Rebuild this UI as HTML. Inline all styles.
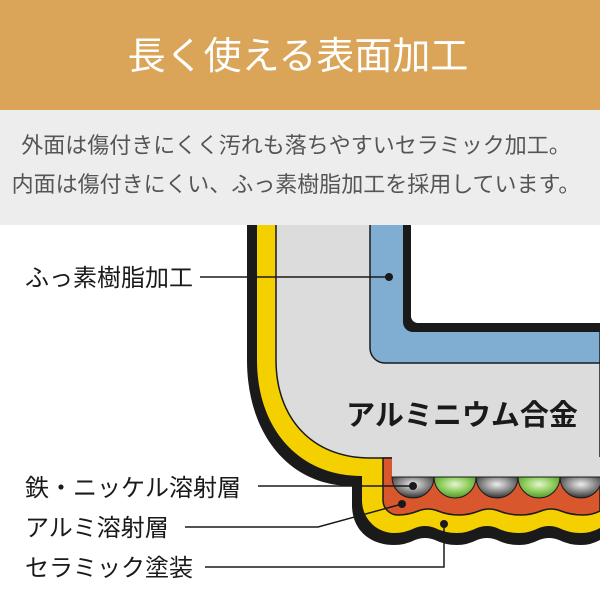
<!DOCTYPE html>
<html><head><meta charset="utf-8"><style>
body{margin:0;width:600px;height:600px;overflow:hidden;background:#fff;font-family:"Liberation Sans","Noto Sans CJK JP",sans-serif}
</style></head><body>
<svg width="600" height="600" xmlns="http://www.w3.org/2000/svg" style="display:block">
<defs>
<clipPath id="c"><rect x="0" y="225" width="600" height="375"/></clipPath>
<radialGradient id="g1" cx="0.5" cy="0.35" r="0.7"><stop offset="0" stop-color="#eee"/><stop offset="0.5" stop-color="#888"/><stop offset="1" stop-color="#222"/></radialGradient>
<radialGradient id="g2" cx="0.5" cy="0.35" r="0.7"><stop offset="0" stop-color="#e6f5d0"/><stop offset="0.5" stop-color="#8ccc5a"/><stop offset="1" stop-color="#4a8a2a"/></radialGradient>
</defs>
<rect x="0" y="0" width="600" height="110" fill="#DBA559"/>
<text x="298" y="69" text-anchor="middle" fill="#fff" font-size="38" font-family="Liberation Sans,Noto Sans CJK JP,sans-serif">長く使える表面加工</text>
<rect x="0" y="110" width="600" height="115" fill="#EDEDED"/>
<text x="296" y="153" text-anchor="middle" fill="#555" font-size="22" font-family="Liberation Sans,Noto Sans CJK JP,sans-serif">外面は傷付きにくく汚れも落ちやすいセラミック加工。</text>
<text x="296" y="192" text-anchor="middle" fill="#555" font-size="22" font-family="Liberation Sans,Noto Sans CJK JP,sans-serif">内面は傷付きにくい、ふっ素樹脂加工を採用しています。</text>
<g clip-path="url(#c)">
<path d="M247 200 V360 C247 435 290 486 352 486 V505 C352 530 370 545 394 545 Q405 545 415 540 Q425 536 435 540 Q445 545 457 545 Q467 545 477 540 Q487 536 497 540 Q507 545 519 545 Q529 545 539 540 Q549 536 559 540 Q569 545 581 545 Q591 545 600 540 V200 Z" fill="#1a1a1a"/>
<path d="M257 200 V360 C257 428 298 476 362 476 V500 C362 520 378 533 394 533 Q405 533 415 528 Q425 524 435 528 Q445 533 457 533 Q467 533 477 528 Q487 524 497 528 Q507 533 519 533 Q529 533 539 528 Q549 524 559 528 Q569 533 581 533 Q591 533 600 528 V200 Z" fill="#F5D000"/>
<path d="M276 200 V360 C276 418 312 458 370 458 H600 V200 Z" fill="#DCDCDC" stroke="#1a1a1a" stroke-width="1.5"/>
<path d="M383 458 V500 A15 15 0 0 0 398 515 Q408 515 418 511 Q428 507 438 511 Q448 515 459 515 Q469 515 479 511 Q489 507 499 511 Q509 515 521 515 Q531 515 541 511 Q551 507 561 511 Q571 515 583 515 Q592 515 600 511 V458 Z" fill="#D9572C" stroke="#1a1a1a" stroke-width="1.5"/>
<rect x="392" y="457" width="210" height="20" fill="#DCDCDC"/>
<line x1="392" y1="477" x2="600" y2="477" stroke="#1a1a1a" stroke-width="1"/>
<path d="M392 477 A21 21 0 0 0 434 477 Z" fill="url(#g1)" stroke="#1a1a1a"/>
<path d="M434 477 A21 21 0 0 0 476 477 Z" fill="url(#g2)" stroke="#1a1a1a"/>
<path d="M476 477 A21 21 0 0 0 518 477 Z" fill="url(#g1)" stroke="#1a1a1a"/>
<path d="M518 477 A21 21 0 0 0 560 477 Z" fill="url(#g2)" stroke="#1a1a1a"/>
<path d="M560 477 A21 21 0 0 0 602 477 Z" fill="url(#g1)" stroke="#1a1a1a"/>
<path d="M370 200 V348 A15 15 0 0 0 385 363 H600 V200 Z" fill="#80AED3" stroke="#1a1a1a" stroke-width="1.5"/>
<path d="M403 200 V322 A10 10 0 0 0 413 332 H600 V200 Z" fill="#1a1a1a"/>
<path d="M411 200 V316 A7 7 0 0 0 418 323 H600 V200 Z" fill="#fff"/>
</g>
<text x="462" y="425" text-anchor="middle" fill="#1a1a1a" font-size="29" font-weight="bold" font-family="Liberation Sans,Noto Sans CJK JP,sans-serif">アルミニウム合金</text>
<g stroke="#1a1a1a" stroke-width="1.5" fill="none">
<line x1="200" y1="277" x2="389" y2="277"/>
<line x1="258" y1="486" x2="413" y2="486"/>
<polyline points="185,527 318,527 402,504"/>
<polyline points="205,567 444,567 444,524"/>
</g>
<g fill="#1a1a1a">
<circle cx="389" cy="277" r="4"/>
<circle cx="413" cy="486" r="4"/>
<circle cx="402" cy="504" r="4"/>
<circle cx="444" cy="524" r="4"/>
</g>
<g font-size="24" fill="#1a1a1a" font-family="Liberation Sans,Noto Sans CJK JP,sans-serif">
<text x="25" y="286">ふっ素樹脂加工</text>
<text x="25" y="496">鉄・ニッケル溶射層</text>
<text x="25" y="536">アルミ溶射層</text>
<text x="25" y="576">セラミック塗装</text>
</g>
</svg>
</body></html>
